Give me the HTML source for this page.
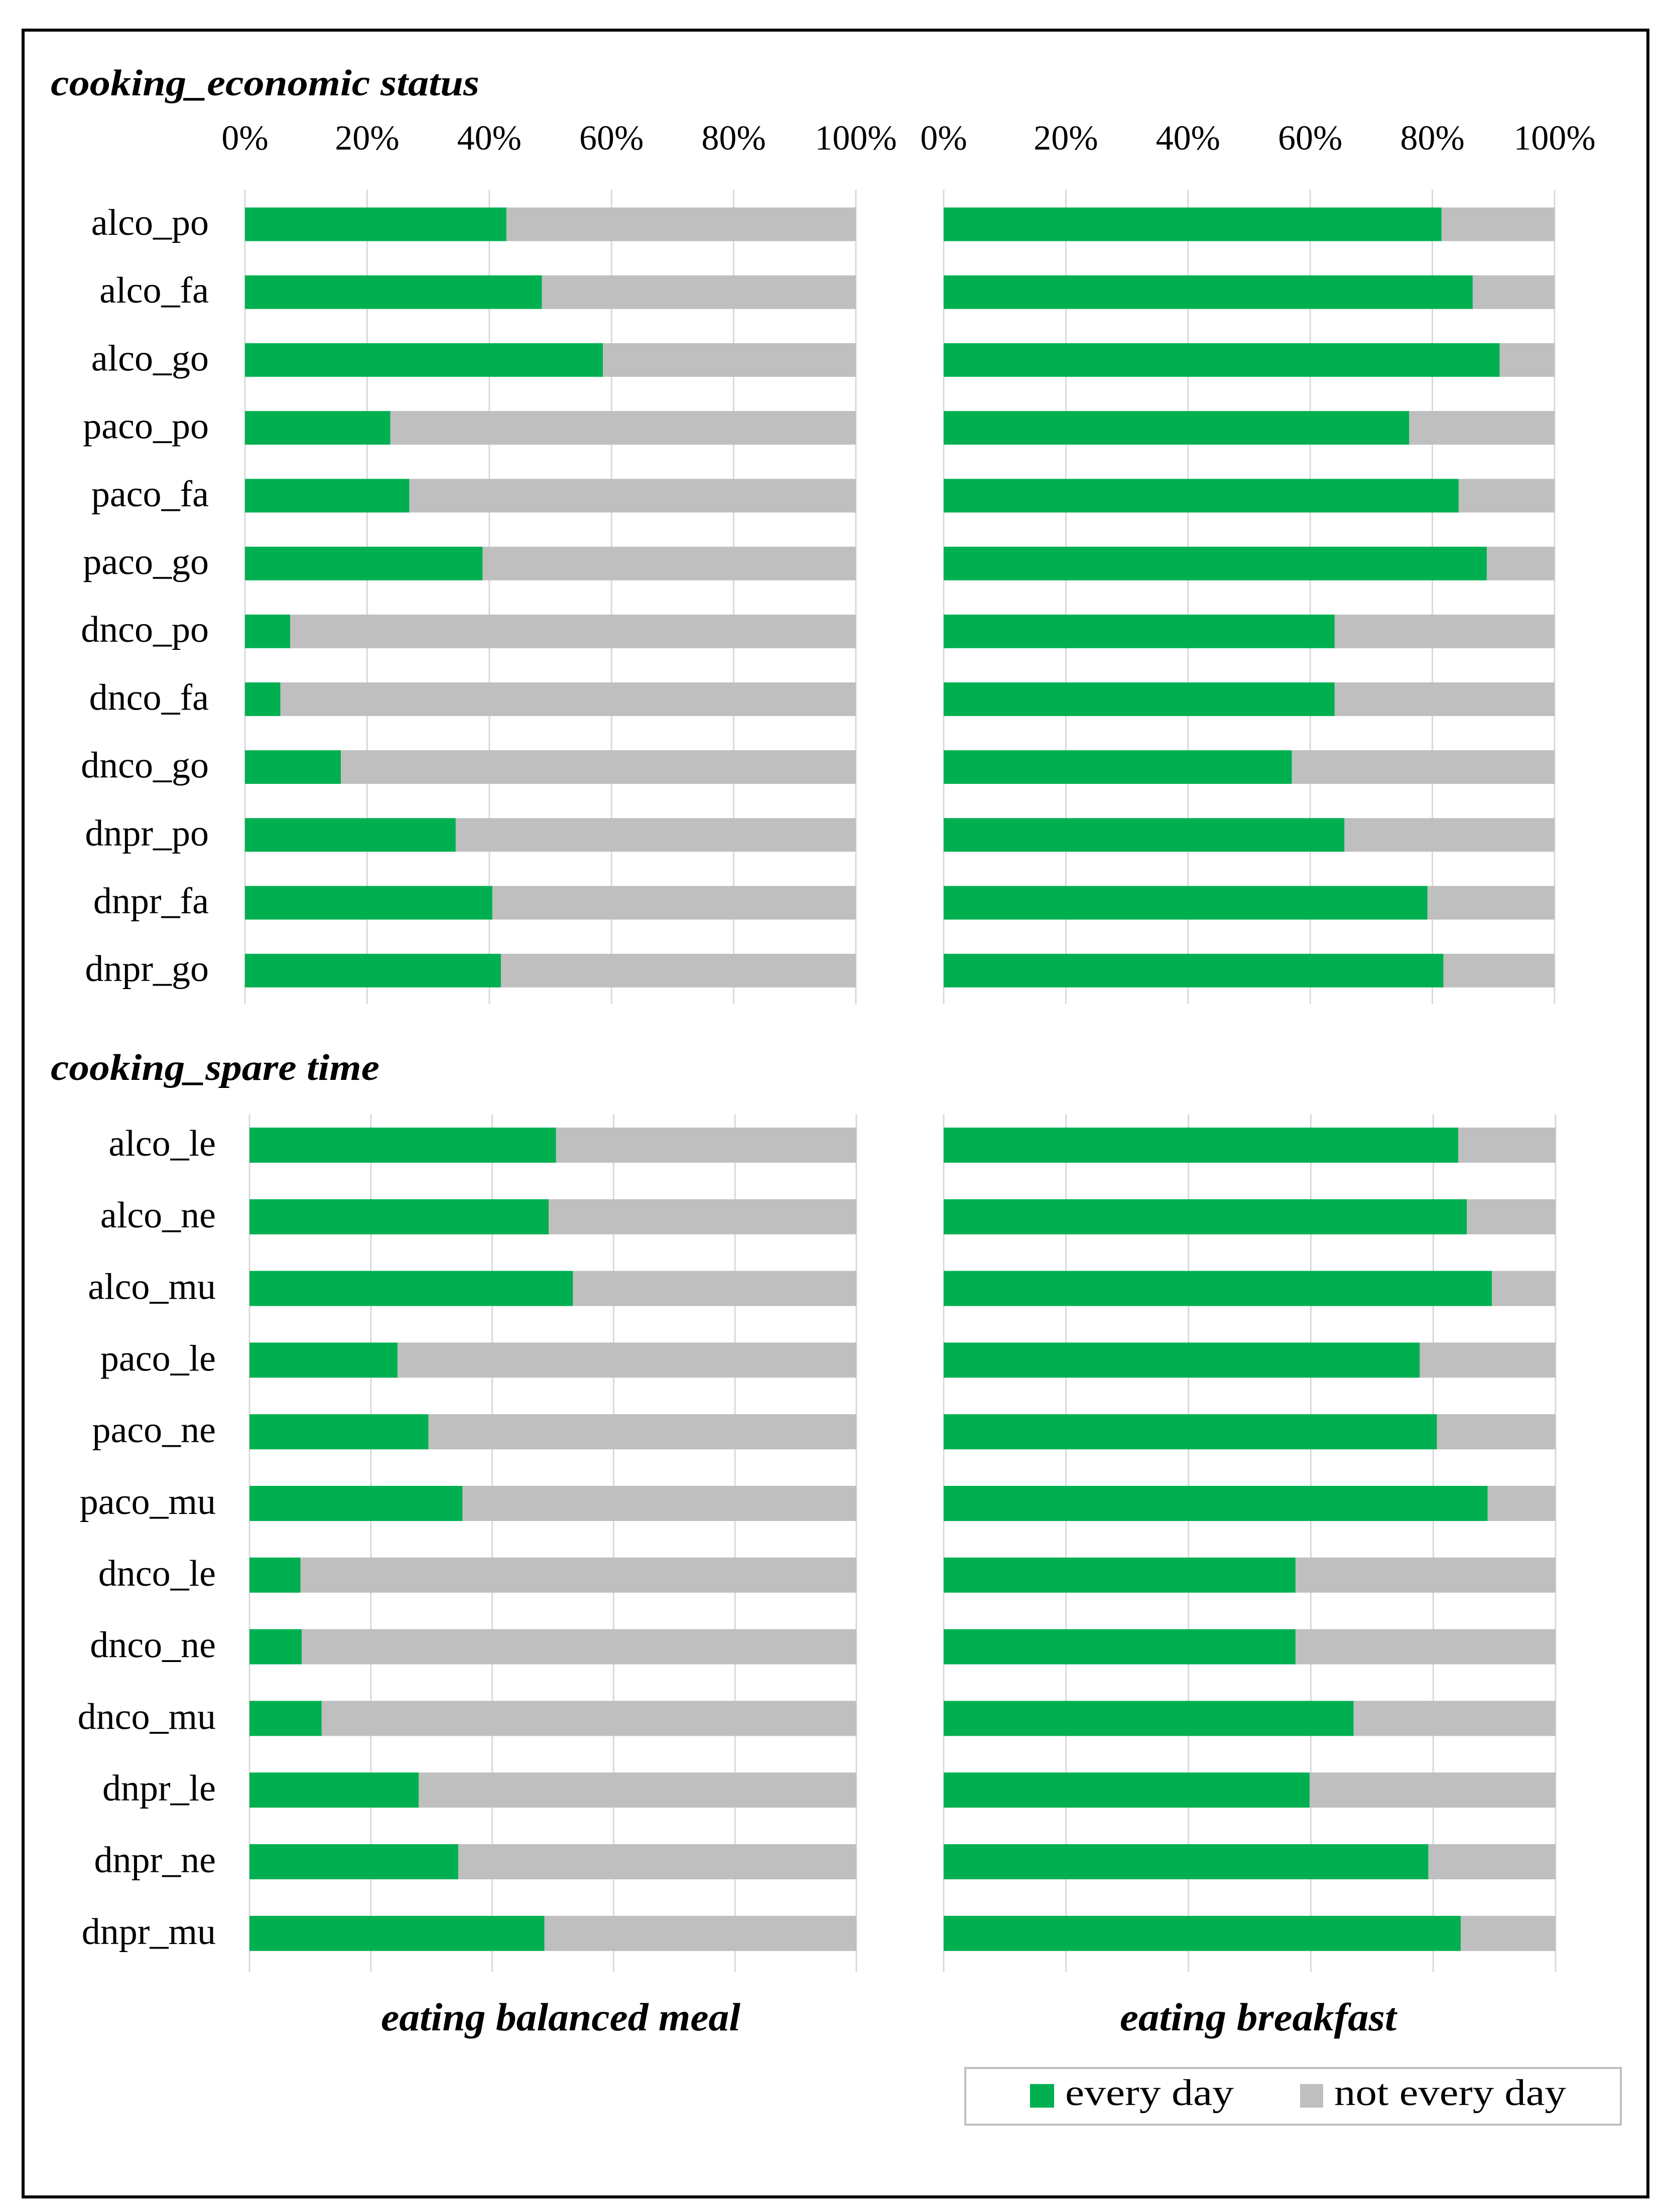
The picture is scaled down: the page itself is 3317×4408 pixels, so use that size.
<!DOCTYPE html>
<html><head><meta charset="utf-8"><style>
html,body{margin:0;padding:0;background:#fff;}
svg{display:block;font-family:"Liberation Serif",serif;}
</style></head><body>
<svg id="chart" width="3317" height="4408" viewBox="0 0 3317 4408" xmlns="http://www.w3.org/2000/svg">
<rect x="46" y="60" width="3237" height="4318" fill="#fff" stroke="#000" stroke-width="6"/>
<text x="101" y="190" font-size="74" font-style="italic" font-weight="bold" textLength="854" lengthAdjust="spacingAndGlyphs">cooking_economic status</text>
<text x="101" y="2152" font-size="74" font-style="italic" font-weight="bold" textLength="655" lengthAdjust="spacingAndGlyphs">cooking_spare time</text>
<text x="759" y="4046" font-size="78" font-style="italic" font-weight="bold" textLength="716" lengthAdjust="spacingAndGlyphs">eating balanced meal</text>
<text x="2231" y="4046" font-size="78" font-style="italic" font-weight="bold" textLength="551" lengthAdjust="spacingAndGlyphs">eating breakfast</text>
<g>
<rect x="1923" y="4121" width="1306" height="113" fill="#fff" stroke="#bfbfbf" stroke-width="4"/>
<rect x="2052" y="4153" width="48" height="47" fill="#00b050"/>
<text x="2122" y="4195" font-size="74" textLength="336" lengthAdjust="spacingAndGlyphs">every day</text>
<rect x="2590" y="4153" width="46" height="47" fill="#bfbfbf"/>
<text x="2658" y="4195" font-size="74" textLength="462" lengthAdjust="spacingAndGlyphs">not every day</text>
</g>
<g id="plots"></g>
</svg>
<script>
const ticks = ["0%","20%","40%","60%","80%","100%"];
const tickValues = [0,20,40,60,80,100];
const catsTop = ["alco_po","alco_fa","alco_go","paco_po","paco_fa","paco_go","dnco_po","dnco_fa","dnco_go","dnpr_po","dnpr_fa","dnpr_go"];
const catsBottom = ["alco_le","alco_ne","alco_mu","paco_le","paco_ne","paco_mu","dnco_le","dnco_ne","dnco_mu","dnpr_le","dnpr_ne","dnpr_mu"];
const mealTop = [42.8,48.6,58.6,23.8,26.9,38.9,7.4,5.8,15.7,34.5,40.5,41.9];
const breakfastTop = [81.5,86.6,91,76.2,84.3,88.9,64,64,57,65.6,79.2,81.8];
const mealBottom = [50.5,49.3,53.3,24.4,29.5,35.1,8.4,8.6,11.9,27.9,34.4,48.6];
const breakfastBottom = [84.1,85.5,89.6,77.8,80.6,88.9,57.5,57.5,67,59.8,79.2,84.5];

const NS = "http://www.w3.org/2000/svg";
const root = document.getElementById("plots");
function mk(tag, attrs, parent){
  const e = document.createElementNS(NS, tag);
  for (const k in attrs) e.setAttribute(k, attrs[k]);
  parent.appendChild(e);
  return e;
}
function panel(name, x0, x1, cats, vals, rowStart, rowStep, barH, gTop, gBot, showTicks, labelX, showLabels){
  const g = mk("g", {}, root);
  
  
  const xs = v => x0 + (x1 - x0) * v / 100;
  const ys = i => rowStart + i * rowStep;
  tickValues.forEach((t, i) => {
    const l = mk("line", {x1: xs(t), x2: xs(t), y1: gTop, y2: gBot, stroke: "#d9d9d9", "stroke-width": 3}, g);
    
    
    if (showTicks) {
      const tx = mk("text", {x: xs(t), y: 298, "font-size": 70, "text-anchor": "middle"}, g);
      
      
      tx.textContent = ticks[i];
    }
  });
  cats.forEach((c, i) => {
    const yc = ys(i);
    const a = mk("rect", {x: xs(0), y: yc - barH/2, width: xs(vals[i]) - xs(0), height: barH, fill: "#00b050"}, g);
    
    
    const b = mk("rect", {x: xs(vals[i]), y: yc - barH/2, width: xs(100) - xs(vals[i]), height: barH, fill: "#bfbfbf"}, g);
    
    
    if (showLabels) {
      const t = mk("text", {x: labelX, y: yc + 21, "font-size": 74, "text-anchor": "end"}, g);
      
      
      t.textContent = c;
    }
  });
}
panel("panel-meal-economic", 488, 1705, catsTop, mealTop, 447, 135.2, 67, 378, 2001, true, 416, true);
panel("panel-breakfast-economic", 1880, 3097, catsTop, breakfastTop, 447, 135.2, 67, 378, 2001, true, 0, false);
panel("panel-meal-spare", 497, 1706, catsBottom, mealBottom, 2282, 142.8, 70, 2220, 3930, false, 430, true);
panel("panel-breakfast-spare", 1880, 3099, catsBottom, breakfastBottom, 2282, 142.8, 70, 2220, 3930, false, 0, false);
</script>
</body></html>
